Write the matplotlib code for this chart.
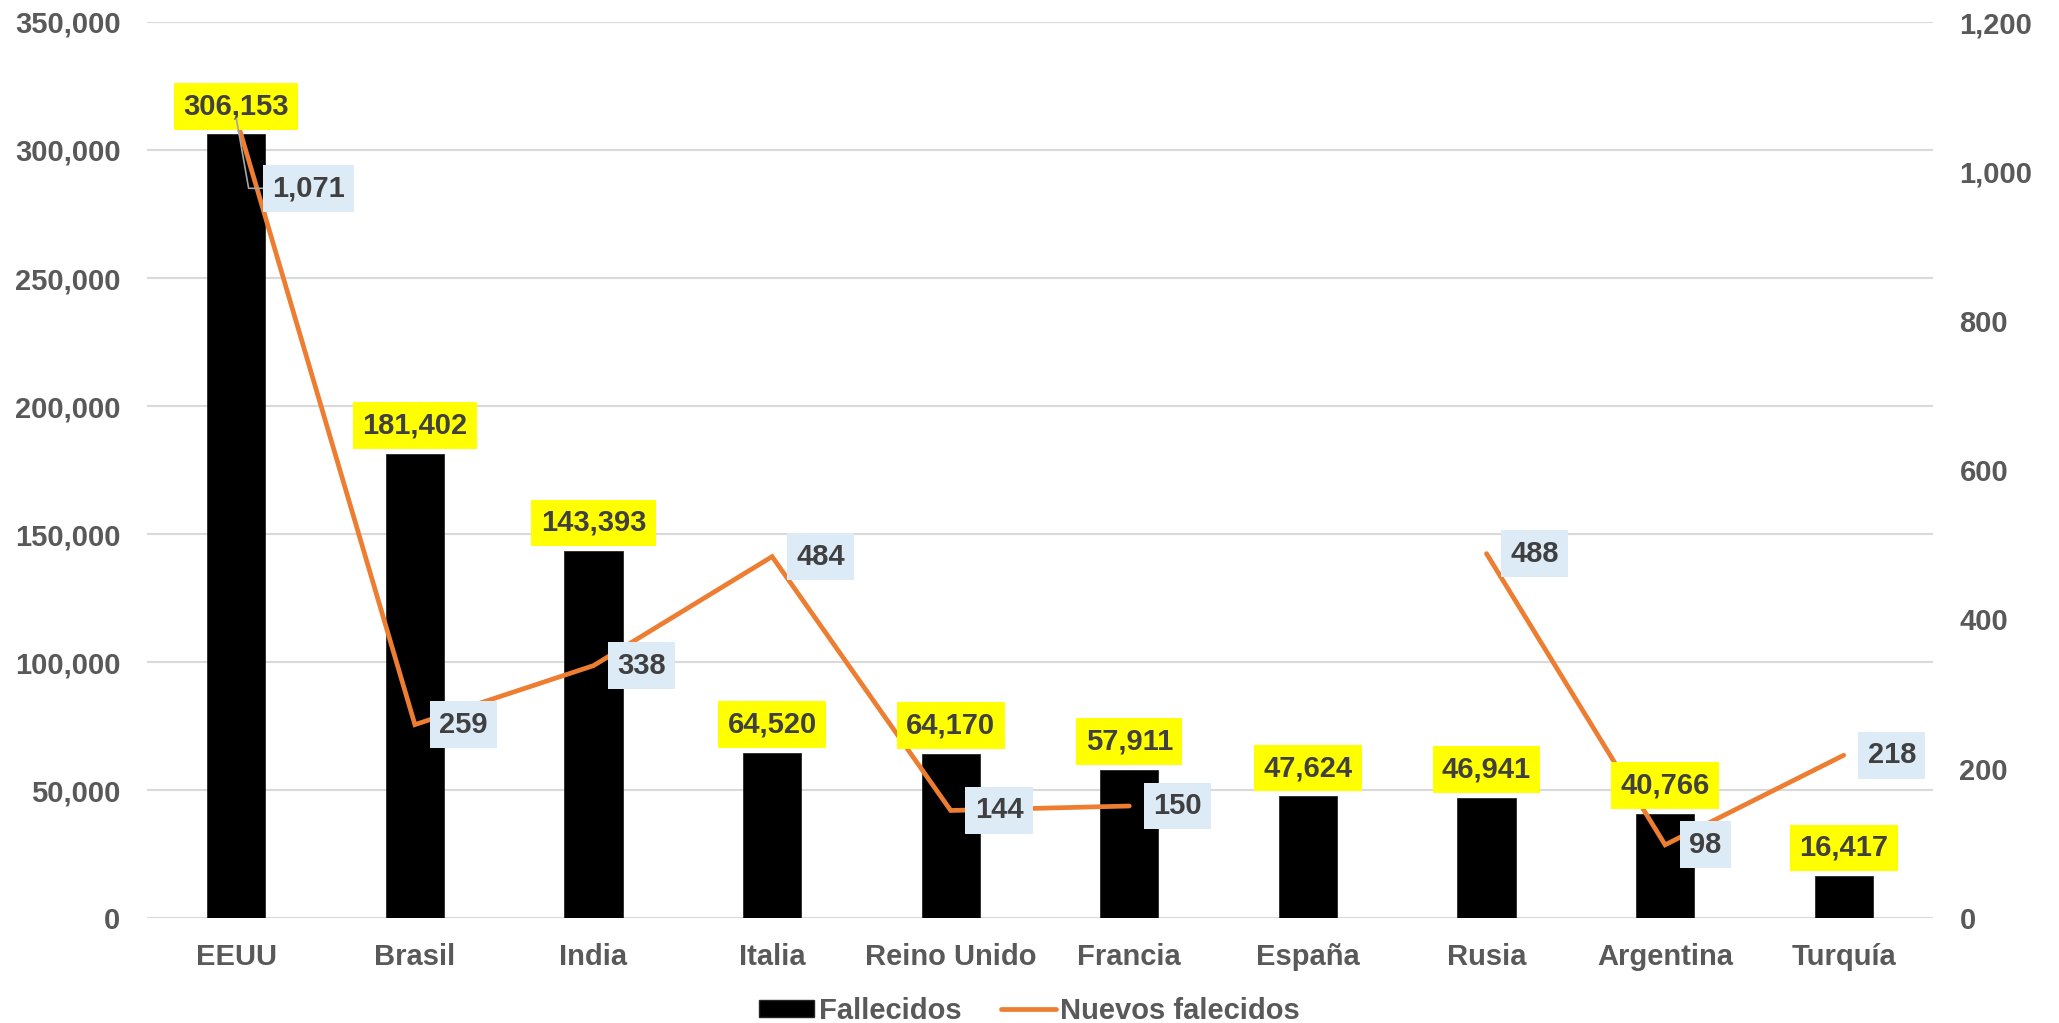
import matplotlib
matplotlib.use("Agg")
import matplotlib.pyplot as plt
import numpy as np
from matplotlib.ticker import FuncFormatter, MultipleLocator
from matplotlib.patches import Patch
from matplotlib.lines import Line2D

plt.rcParams['font.family'] = ['Liberation Sans', 'DejaVu Sans']
plt.rcParams['font.weight'] = 'bold'

categories = ["EEUU", "Brasil", "India", "Italia", "Reino Unido", "Francia",
              "España", "Rusia", "Argentina", "Turquía"]
fallecidos = [306153, 181402, 143393, 64520, 64170, 57911, 47624, 46941, 40766, 16417]
nuevos = [1071, 259, 338, 484, 144, 150, np.nan, 488, 98, 218]

TICK_C = "#595959"
LAB_C = "#404040"
ORANGE = "#ED7D31"
YELLOW = "#FFFF00"
LBLUE = "#DDEBF7"
FS = 21
PAD = 0.32

fig = plt.figure(figsize=(20.59, 10.23), dpi=100)
ax = fig.add_axes([147/2059, 1 - 918/1023, (1933-147)/2059, (918-22)/1023])
ax2 = ax.twinx()
ax2.set_zorder(ax.get_zorder() + 1)
ax2.patch.set_visible(False)

x = np.arange(len(categories))
ax.bar(x, fallecidos, width=0.325, color="black", edgecolor="#262626", linewidth=0.6, zorder=2)
ax.set_xlim(-0.5, len(categories) - 0.5)
ax.set_ylim(0, 350000)
ax.yaxis.set_major_locator(MultipleLocator(50000))
ax.yaxis.set_major_formatter(FuncFormatter(lambda v, p: f"{int(v):,}"))
ax.grid(axis='y', color="#D9D9D9", linewidth=1.5, zorder=0)
ax.set_axisbelow(True)

ax2.plot(x, nuevos, color=ORANGE, linewidth=3.4, solid_capstyle='round',
         solid_joinstyle='miter', zorder=3, label="Nuevos falecidos")
ax2.set_ylim(0, 1200)
ax2.yaxis.set_major_locator(MultipleLocator(200))
ax2.yaxis.set_major_formatter(FuncFormatter(lambda v, p: f"{int(v):,}"))

for a in (ax, ax2):
    for s in a.spines.values():
        s.set_visible(False)
    a.tick_params(axis='both', length=0, labelsize=FS, labelcolor=TICK_C)
ax.tick_params(axis='y', pad=19)
ax2.tick_params(axis='y', pad=19)
ax.tick_params(axis='x', pad=18)
ax.set_xticks(x)
ax.set_xticklabels(categories)
for t in ax.get_xticklabels() + ax.get_yticklabels() + ax2.get_yticklabels():
    t.set_fontweight('bold')

# bar labels (drawn on top axes so they cover the line)
for i, v in enumerate(fallecidos):
    ax2.annotate(f"{v:,}", xy=(i, v), xycoords=ax.transData,
                 xytext=(0, 28), textcoords='offset pixels',
                 ha='center', va='center', fontsize=FS, fontweight='bold', color=LAB_C,
                 bbox=dict(boxstyle=f'square,pad={PAD}', fc=YELLOW, ec='none'), zorder=5)

# line labels
for i, v in enumerate(nuevos):
    if np.isnan(v):
        continue
    if i == 0:
        ax2.annotate(f"{int(v):,}", xy=(i, v), xycoords='data',
                     xytext=(36, -70), textcoords='offset pixels',
                     ha='left', va='center', fontsize=FS, fontweight='bold', color=LAB_C,
                     bbox=dict(boxstyle=f'square,pad={PAD}', fc=LBLUE, ec='none'),
                     arrowprops=dict(arrowstyle='-', color='#A6A6A6', lw=1.2,
                                     shrinkA=0, shrinkB=0,
                                     connectionstyle='angle,angleA=0,angleB=100,rad=0'),
                     zorder=6)
    else:
        ax2.annotate(f"{int(v):,}", xy=(i, v), xycoords='data',
                     xytext=(24, 0), textcoords='offset pixels',
                     ha='left', va='center', fontsize=FS, fontweight='bold', color=LAB_C,
                     bbox=dict(boxstyle=f'square,pad={PAD}', fc=LBLUE, ec='none'), zorder=6)

# legend
handles = [Patch(facecolor='black', edgecolor='#262626', label='Fallecidos'),
           Line2D([0], [0], color=ORANGE, lw=3.4, solid_capstyle='round', label='Nuevos falecidos')]
leg = fig.legend(handles=handles, loc='center', bbox_to_anchor=(0.5, 0.012), ncol=2,
                 frameon=False, fontsize=FS, handlelength=1.9, handleheight=0.55,
                 handletextpad=0.15, columnspacing=1.35, borderaxespad=0, borderpad=0)
for t in leg.get_texts():
    t.set_color(TICK_C)
    t.set_fontweight('bold')

fig.savefig("out.png", dpi=100)
